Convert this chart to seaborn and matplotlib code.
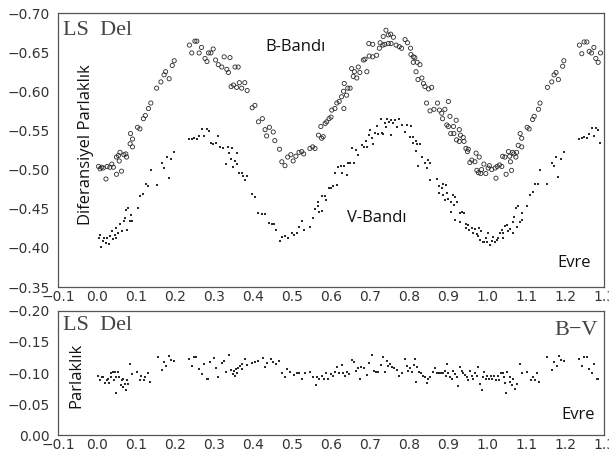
import numpy as np
import matplotlib
matplotlib.use("Agg")
import matplotlib.pyplot as plt
import seaborn as sns

# B band (open circles): phase, differential magnitude
b_phase = [0.004, 0.008, 0.012, 0.016, 0.023, 0.026, 0.033, 0.038, 0.042, 0.050, 0.055, 0.050, 0.059, 0.057,
           0.063, 0.069, 0.074, 0.076, 0.085, 0.086, 0.091, 0.091, 0.104, 0.110, 0.119, 0.124, 0.132, 0.138,
           0.153, 0.164, 0.172, 0.176, 0.185, 0.193, 0.198, 0.237, 0.243, 0.251, 0.256, 0.262, 0.268, 0.277,
           0.282, 0.286, 0.292, 0.298, 0.304, 0.311, 0.320, 0.326, 0.333, 0.337, 0.341, 0.344, 0.350, 0.354,
           0.358, 0.362, 0.365, 0.371, 0.379, 0.385, 0.398, 0.405, 0.414, 0.424, 0.431, 0.442, 0.435, 0.452,
           0.456, 0.468,
           0.474, 0.482, 0.489, 0.497, 0.503, 0.510, 0.518, 0.525, 0.530, 0.546, 0.553, 0.559, 0.568, 0.576,
           0.580, 0.574, 0.585, 0.589, 0.595, 0.600, 0.602, 0.610, 0.615, 0.621, 0.633, 0.627, 0.632, 0.640,
           0.643, 0.649, 0.634, 0.653, 0.660, 0.657, 0.666, 0.670, 0.674, 0.683,
           0.687, 0.692, 0.698, 0.707, 0.717, 0.697, 0.707, 0.724, 0.726, 0.733, 0.738, 0.734, 0.741, 0.747,
           0.753, 0.747, 0.754, 0.760, 0.767, 0.775, 0.781, 0.790, 0.796, 0.804, 0.805, 0.811, 0.815, 0.811,
           0.821, 0.828, 0.818, 0.823, 0.833, 0.837, 0.841, 0.850, 0.858, 0.845, 0.854, 0.864, 0.873, 0.878,
           0.884, 0.886, 0.892, 0.901, 0.905, 0.897, 0.901, 0.914, 0.921, 0.907, 0.915, 0.929, 0.932, 0.939,
           0.922, 0.929, 0.941, 0.946, 0.950, 0.952, 0.961, 0.956, 0.969, 0.972, 0.980, 0.974, 0.978, 0.984,
           0.986, 0.992, 0.997, 1.003, 1.006,
           1.012, 1.021, 1.026, 1.032, 1.023, 1.038, 1.040, 1.046, 1.049, 1.055, 1.058, 1.060, 1.063, 1.066,
           1.069, 1.074, 1.076, 1.080, 1.089, 1.085, 1.089, 1.103, 1.108, 1.117, 1.121, 1.132, 1.136, 1.155,
           1.166, 1.172, 1.177, 1.183, 1.194, 1.197, 1.237, 1.243, 1.249, 1.256, 1.262, 1.268, 1.274, 1.279,
           1.285, 1.291]
b_mag = [-0.504, -0.501, -0.503, -0.502, -0.488, -0.504, -0.503, -0.507, -0.503, -0.516, -0.518, -0.494, -0.522,
         -0.511, -0.498, -0.519, -0.520, -0.516, -0.533, -0.546, -0.539, -0.529, -0.554, -0.552, -0.565, -0.569,
         -0.578, -0.585, -0.604, -0.612, -0.621, -0.625, -0.616, -0.633, -0.639, -0.659, -0.649, -0.664, -0.664,
         -0.649, -0.656, -0.642, -0.638, -0.649, -0.649, -0.654, -0.640, -0.634, -0.631, -0.644, -0.628, -0.624,
         -0.643, -0.606, -0.608, -0.631, -0.605, -0.631, -0.611, -0.604, -0.611, -0.601, -0.579, -0.582, -0.561,
         -0.565, -0.551, -0.554, -0.543, -0.548, -0.537, -0.526,
         -0.510, -0.505, -0.516, -0.519, -0.511, -0.517, -0.522, -0.523, -0.520, -0.527, -0.529, -0.527, -0.544,
         -0.540, -0.542, -0.555, -0.559, -0.561, -0.565, -0.567, -0.576, -0.578, -0.585, -0.587, -0.578, -0.593,
         -0.600, -0.595, -0.604, -0.604, -0.610, -0.629, -0.625, -0.619, -0.617, -0.631, -0.624, -0.640,
         -0.641, -0.625, -0.645, -0.644, -0.646, -0.661, -0.660, -0.655, -0.662, -0.659, -0.660, -0.670, -0.678,
         -0.672, -0.673, -0.661, -0.661, -0.669, -0.659, -0.657, -0.655, -0.666, -0.662, -0.655, -0.647, -0.644,
         -0.643, -0.637, -0.637, -0.634, -0.625, -0.615, -0.617, -0.610, -0.606, -0.603, -0.605, -0.585, -0.575,
         -0.577, -0.585, -0.576, -0.572, -0.565, -0.577, -0.587, -0.568, -0.557, -0.555, -0.555, -0.563, -0.546,
         -0.546, -0.551, -0.544, -0.541, -0.538, -0.536, -0.536, -0.527, -0.523, -0.526, -0.512, -0.509, -0.510,
         -0.521, -0.516, -0.499, -0.496, -0.495, -0.500, -0.507, -0.495, -0.502, -0.505,
         -0.500, -0.502, -0.504, -0.506, -0.489, -0.504, -0.517, -0.516, -0.494, -0.523, -0.517, -0.510, -0.499,
         -0.522, -0.520, -0.516, -0.522, -0.531, -0.529, -0.546, -0.540, -0.554, -0.552, -0.564, -0.568, -0.577,
         -0.585, -0.605, -0.612, -0.621, -0.624, -0.615, -0.632, -0.639, -0.659, -0.648, -0.663, -0.663, -0.651,
         -0.649, -0.656, -0.642, -0.637, -0.649]

# V band (dots)
v_phase = [0.004, 0.008, 0.010, 0.015, 0.018, 0.023, 0.026, 0.030, 0.033, 0.039, 0.042, 0.045, 0.049, 0.050,
           0.055, 0.059, 0.063, 0.068, 0.072, 0.074, 0.076, 0.080, 0.085, 0.087, 0.091, 0.104, 0.110, 0.119,
           0.125, 0.132, 0.138, 0.153, 0.166, 0.172, 0.179, 0.185, 0.191, 0.198, 0.237, 0.243, 0.250, 0.256,
           0.262, 0.268, 0.274, 0.282, 0.287, 0.292, 0.298, 0.305, 0.311, 0.315, 0.322, 0.331, 0.335, 0.338,
           0.344, 0.345, 0.350, 0.354, 0.358, 0.360, 0.365, 0.371, 0.375, 0.379, 0.384, 0.398, 0.405, 0.414,
           0.422, 0.431, 0.440, 0.449, 0.454, 0.459,
           0.469, 0.475, 0.482, 0.489, 0.499, 0.506, 0.512, 0.518, 0.525, 0.531, 0.546, 0.553, 0.559, 0.566,
           0.570, 0.576, 0.567, 0.576, 0.586, 0.585, 0.595, 0.600, 0.606, 0.615, 0.610, 0.619, 0.626, 0.629,
           0.634, 0.643, 0.649, 0.640, 0.660, 0.655, 0.663, 0.670,
           0.679, 0.685, 0.690, 0.693, 0.698, 0.704, 0.707, 0.700, 0.713, 0.717, 0.721, 0.727, 0.730, 0.734,
           0.738, 0.741, 0.744, 0.749, 0.753, 0.755, 0.760, 0.764, 0.768, 0.775, 0.781, 0.790, 0.796, 0.804,
           0.803, 0.811, 0.818, 0.809, 0.821, 0.828, 0.818, 0.833, 0.824, 0.841, 0.850, 0.845, 0.855, 0.854,
           0.873, 0.876, 0.878, 0.884, 0.888, 0.895, 0.888, 0.898, 0.892, 0.901, 0.907, 0.914, 0.915, 0.918,
           0.924, 0.907, 0.931, 0.935, 0.941, 0.918, 0.931, 0.946, 0.952, 0.946, 0.955, 0.961, 0.965, 0.969,
           0.974, 0.978, 0.980, 0.984, 0.982, 0.989, 0.992, 0.997, 0.999, 1.003,
           1.008, 1.012, 1.016, 1.021, 1.025, 1.029, 1.033, 1.038, 1.042, 1.040, 1.046, 1.050, 1.055, 1.060,
           1.066, 1.067, 1.069, 1.074, 1.078, 1.085, 1.080, 1.089, 1.089, 1.103, 1.110, 1.119, 1.123, 1.132,
           1.136, 1.155, 1.166, 1.173, 1.177, 1.183, 1.191, 1.197, 1.237, 1.243, 1.249, 1.256, 1.262, 1.268,
           1.274, 1.279, 1.285, 1.291]
v_mag = [-0.412, -0.417, -0.401, -0.409, -0.413, -0.406, -0.413, -0.405, -0.415, -0.421, -0.411, -0.417, -0.426,
         -0.413, -0.419, -0.430, -0.421, -0.434, -0.438, -0.449, -0.423, -0.451, -0.434, -0.442, -0.434, -0.451,
         -0.466, -0.469, -0.481, -0.479, -0.500, -0.480, -0.508, -0.502, -0.516, -0.489, -0.513, -0.522, -0.539,
         -0.539, -0.540, -0.539, -0.543, -0.552, -0.543, -0.552, -0.549, -0.534, -0.533, -0.534, -0.543, -0.529,
         -0.528, -0.507, -0.529, -0.521, -0.513, -0.528, -0.503, -0.511, -0.507, -0.521, -0.496, -0.495, -0.492,
         -0.487, -0.492, -0.469, -0.465, -0.445, -0.443, -0.443, -0.432, -0.431, -0.431, -0.423,
         -0.409, -0.414, -0.415, -0.412, -0.419, -0.417, -0.419, -0.427, -0.434, -0.423, -0.427, -0.438, -0.450,
         -0.453, -0.446, -0.447, -0.459, -0.466, -0.461, -0.466, -0.476, -0.477, -0.479, -0.480, -0.495, -0.503,
         -0.505, -0.495, -0.504, -0.509, -0.509, -0.493, -0.509, -0.527, -0.525, -0.519,
         -0.531, -0.529, -0.537, -0.529, -0.544, -0.540, -0.533, -0.551, -0.547, -0.556, -0.545, -0.564, -0.547,
         -0.546, -0.559, -0.555, -0.565, -0.561, -0.544, -0.563, -0.559, -0.563, -0.554, -0.564, -0.557, -0.548,
         -0.557, -0.556, -0.542, -0.541, -0.536, -0.534, -0.533, -0.533, -0.524, -0.516, -0.504, -0.509, -0.512,
         -0.502, -0.509, -0.487, -0.488, -0.479, -0.470, -0.476, -0.482, -0.480, -0.468, -0.470, -0.461, -0.463,
         -0.458, -0.468, -0.455, -0.465, -0.459, -0.446, -0.445, -0.446, -0.445, -0.436, -0.433, -0.431, -0.429,
         -0.425, -0.423, -0.425, -0.419, -0.424, -0.418, -0.415, -0.425, -0.421, -0.410, -0.407, -0.407, -0.412,
         -0.407, -0.419,
         -0.404, -0.409, -0.414, -0.408, -0.410, -0.413, -0.419, -0.423, -0.412, -0.419, -0.428, -0.429, -0.421,
         -0.424, -0.419, -0.433, -0.440, -0.451, -0.427, -0.433, -0.453, -0.445, -0.436, -0.453, -0.468, -0.472,
         -0.482, -0.482, -0.500, -0.482, -0.509, -0.504, -0.516, -0.491, -0.514, -0.523, -0.539, -0.540, -0.541,
         -0.540, -0.545, -0.553, -0.543, -0.553, -0.551, -0.534]

# B-V colour index
bv_phase = [0.003, 0.008, 0.012, 0.016, 0.021, 0.025, 0.029, 0.032, 0.035, 0.037, 0.040, 0.044, 0.046, 0.049,
            0.050, 0.055, 0.057, 0.061, 0.063, 0.066, 0.067, 0.072, 0.074, 0.078, 0.080, 0.085, 0.089, 0.102,
            0.110, 0.114, 0.121, 0.123, 0.132, 0.137, 0.157, 0.166, 0.172, 0.178, 0.185, 0.191, 0.197, 0.237,
            0.243, 0.249, 0.255, 0.262, 0.268, 0.274, 0.281, 0.285, 0.291, 0.300, 0.305, 0.311, 0.320, 0.326,
            0.331, 0.339, 0.343, 0.348, 0.351, 0.354, 0.356, 0.360, 0.362, 0.367, 0.371, 0.373, 0.379, 0.385,
            0.397, 0.405, 0.414, 0.425, 0.431, 0.437, 0.445, 0.452, 0.459, 0.467, 0.474, 0.482, 0.488, 0.495,
            0.505, 0.512, 0.519, 0.525, 0.533, 0.546, 0.553, 0.562, 0.565, 0.570, 0.576, 0.582, 0.587, 0.593,
            0.599, 0.604, 0.610, 0.616, 0.621,
            0.627, 0.632, 0.636, 0.642, 0.647, 0.653, 0.659, 0.664, 0.670, 0.674, 0.678, 0.685, 0.692, 0.698,
            0.704, 0.709, 0.715, 0.721, 0.727, 0.734, 0.738, 0.743, 0.747, 0.751, 0.756, 0.762, 0.768, 0.775,
            0.781, 0.790, 0.794, 0.798, 0.803, 0.807, 0.813, 0.815, 0.818, 0.821, 0.826, 0.832, 0.837, 0.841,
            0.845, 0.850, 0.854, 0.861, 0.867, 0.873, 0.878, 0.881, 0.886, 0.892, 0.895, 0.898, 0.901, 0.905,
            0.910, 0.914, 0.918, 0.924, 0.926, 0.931, 0.935, 0.939, 0.944, 0.948, 0.952, 0.956, 0.961, 0.965,
            0.969, 0.974, 0.978, 0.982, 0.986, 0.989, 0.992, 0.997, 1.001, 1.006, 1.009, 1.014, 1.018, 1.023,
            1.027, 1.032, 1.035, 1.040, 1.044, 1.046, 1.049, 1.052, 1.058, 1.060, 1.063, 1.067, 1.072, 1.076,
            1.085, 1.091, 1.103, 1.112, 1.117, 1.123, 1.129, 1.134, 1.155, 1.166, 1.172, 1.179, 1.185, 1.191,
            1.197, 1.237, 1.243, 1.249, 1.256, 1.262, 1.268, 1.274, 1.281, 1.285]
bv_col = [-0.095, -0.088, -0.094, -0.093, -0.084, -0.089, -0.090, -0.084, -0.100, -0.094, -0.102, -0.088, -0.102,
          -0.068, -0.094, -0.101, -0.093, -0.081, -0.088, -0.078, -0.090, -0.083, -0.073, -0.089, -0.083, -0.115,
          -0.098, -0.102, -0.088, -0.095, -0.088, -0.093, -0.100, -0.086, -0.125, -0.105, -0.118, -0.111, -0.127,
          -0.121, -0.120, -0.122, -0.111, -0.125, -0.126, -0.106, -0.098, -0.115, -0.091, -0.090, -0.118, -0.124,
          -0.108, -0.093, -0.116, -0.120, -0.102, -0.129, -0.105, -0.098, -0.104, -0.095, -0.106, -0.100, -0.108,
          -0.111, -0.115, -0.106, -0.122, -0.113, -0.116, -0.117, -0.120, -0.124, -0.110, -0.116, -0.122, -0.118,
          -0.115, -0.120, -0.100, -0.093, -0.106, -0.102, -0.097, -0.100, -0.100, -0.091, -0.100, -0.102, -0.093,
          -0.081, -0.093, -0.090, -0.095, -0.091, -0.100, -0.090, -0.098, -0.095, -0.102, -0.109, -0.100,
          -0.113, -0.100, -0.095, -0.102, -0.098, -0.121, -0.117, -0.104, -0.108, -0.090, -0.109, -0.108, -0.097,
          -0.116, -0.129, -0.104, -0.102, -0.102, -0.113, -0.125, -0.102, -0.120, -0.111, -0.115, -0.109, -0.108,
          -0.105, -0.095, -0.100, -0.122, -0.111, -0.104, -0.108, -0.102, -0.113, -0.122, -0.086, -0.109, -0.102,
          -0.100, -0.095, -0.093, -0.084, -0.090, -0.093, -0.102, -0.108, -0.100, -0.100, -0.100, -0.100, -0.104,
          -0.095, -0.115, -0.100, -0.094, -0.090, -0.104, -0.098, -0.094, -0.079, -0.110, -0.104, -0.100, -0.097,
          -0.093, -0.088, -0.104, -0.095, -0.091, -0.100, -0.095, -0.110, -0.083, -0.073, -0.094, -0.102, -0.091,
          -0.095, -0.091, -0.095, -0.090, -0.095, -0.089, -0.095, -0.088, -0.100, -0.100, -0.093, -0.084, -0.068,
          -0.102, -0.094, -0.086, -0.081, -0.090, -0.074, -0.083, -0.115, -0.100, -0.102, -0.088, -0.094, -0.088,
          -0.100, -0.086, -0.126, -0.105, -0.118, -0.111, -0.127, -0.121, -0.120, -0.122, -0.111, -0.125, -0.126,
          -0.106, -0.100, -0.115, -0.091, -0.090]

phase_ticks = np.round(np.arange(-0.1, 1.31, 0.1), 1)

sns.set_style("white")
plt.rcParams["font.family"] = ["DejaVu Sans"]

fig = plt.figure(figsize=(6.09, 4.53), dpi=100)
ax1 = fig.add_axes([0.0952, 0.3664, 0.8966, 0.6049])
ax2 = fig.add_axes([0.0952, 0.0397, 0.8966, 0.2738])

frame = "#555555"
ink = "#2a2a2a"

sns.scatterplot(x=b_phase, y=b_mag, ax=ax1, marker="o", s=9, facecolor="none",
                edgecolor=ink, linewidth=0.6)
sns.scatterplot(x=v_phase, y=v_mag, ax=ax1, marker="s", s=2.2, color=ink, linewidth=0)
sns.scatterplot(x=bv_phase, y=bv_col, ax=ax2, marker="s", s=2.2, color=ink, linewidth=0)

ax1.set_ylim(-0.35, -0.70)
ax1.set_yticks([-0.70, -0.65, -0.60, -0.55, -0.50, -0.45, -0.40, -0.35])
ax2.set_ylim(0.0, -0.20)
ax2.set_yticks([0.00, -0.05, -0.10, -0.15, -0.20])

for ax in (ax1, ax2):
    ax.set_xlim(-0.1, 1.3)
    ax.set_xticks(phase_ticks)
    ax.set_xticklabels([f"{t:.1f}".replace("-", "\u2212") for t in phase_ticks])
    ax.yaxis.set_major_formatter(matplotlib.ticker.FuncFormatter(
        lambda v, p: f"{v:.2f}".replace("-", "\u2212")))
    ax.tick_params(axis="x", direction="in", length=5, width=0.8, color=frame,
                   labelsize=10, labelcolor="#333333", pad=2)
    ax.tick_params(axis="y", direction="out", length=4, width=0.8, color=frame,
                   labelsize=10, labelcolor="#333333", pad=2)
    for sp in ax.spines.values():
        sp.set_color(frame)
        sp.set_linewidth(0.9)
    ax.set_xlabel("")
    ax.set_ylabel("")

serif = ["Liberation Serif", "DejaVu Serif"]
label_font = ["Open Sans", "DejaVu Sans"]

ax1.text(0.009, 0.97, "LS  Del", transform=ax1.transAxes, ha="left", va="top",
         fontsize=16, family=serif, color="#444444")
ax1.text(0.51, -0.657, "B-Bandı", ha="center", va="center", fontsize=12,
         family=label_font, color="#111111")
ax1.text(0.718, -0.438, "V-Bandı", ha="center", va="center", fontsize=12,
         family=label_font, color="#111111")
ax1.text(0.945, 0.088, "Evre", transform=ax1.transAxes, ha="center", va="center",
         fontsize=12, family=label_font, color="#111111")
ax1.text(0.051, 0.52, "Diferansiyel Parlaklık", transform=ax1.transAxes, rotation=90,
         ha="center", va="center", fontsize=12, family=label_font, color="#111111")

ax2.text(0.009, 0.96, "LS  Del", transform=ax2.transAxes, ha="left", va="top",
         fontsize=16, family=serif, color="#444444")
ax2.text(0.988, 0.92, "B\u2212V", transform=ax2.transAxes, ha="right", va="top",
         fontsize=16, family=serif, color="#444444")
ax2.text(0.952, 0.161, "Evre", transform=ax2.transAxes, ha="center", va="center",
         fontsize=12, family=label_font, color="#111111")
ax2.text(0.033, 0.48, "Parlaklık", transform=ax2.transAxes, rotation=90,
         ha="center", va="center", fontsize=12, family=label_font, color="#111111")

fig.savefig("out.png", dpi=100)
